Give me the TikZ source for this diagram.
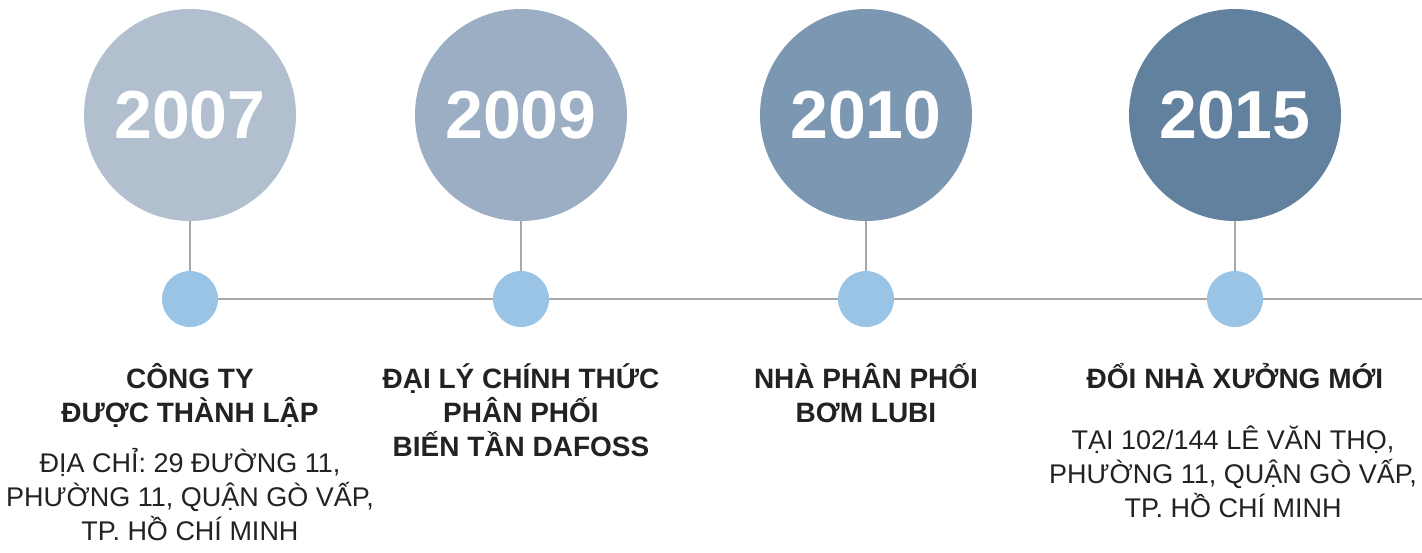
\documentclass[tikz,border=0pt]{standalone}
\usepackage{fontspec}
\setmainfont{Liberation Sans}
\usepackage{tikz}
\usetikzlibrary{positioning}

\definecolor{yearA}{HTML}{B1BFCF}
\definecolor{yearB}{HTML}{9BAEC3}
\definecolor{yearC}{HTML}{7B97B1}
\definecolor{yearD}{HTML}{62819F}
\definecolor{dotblue}{HTML}{9AC4E6}
\definecolor{linegray}{HTML}{A8A8A8}
\definecolor{ink}{HTML}{222222}

\begin{document}
\begin{tikzpicture}[x=1pt,y=-1pt]
\tikzstyle{year}=[circle,minimum size=212pt,inner sep=0pt,text=white,font=\fontsize{68}{68}\selectfont\bfseries]
\tikzstyle{dot}=[circle,fill=dotblue,minimum size=56pt,inner sep=0pt]
\tikzstyle{stem}=[draw=linegray,line width=2.5pt]
\tikzstyle{head}=[align=center,inner sep=0pt,text=ink,font=\fontsize{28}{34}\selectfont\bfseries]
\tikzstyle{addr}=[align=center,inner sep=0pt,text=ink,font=\fontsize{27}{34}\selectfont]
\useasboundingbox (0,0) rectangle (1422,552);
% years
\node[year,fill=yearA] (y1) at (190,115) {2007};
\node[year,fill=yearB] (y2) at (521,115) {2009};
\node[year,fill=yearC] (y3) at (866,115) {2010};
\node[year,fill=yearD] (y4) at (1235,115) {2015};
% dots on the line
\node[dot] (d1) at (190,299) {};
\node[dot] (d2) at (521,299) {};
\node[dot] (d3) at (866,299) {};
\node[dot] (d4) at (1235,299) {};
\coordinate (lineend) at (1422,299);
\draw[stem] (y1) -- (d1);
\draw[stem] (y2) -- (d2);
\draw[stem] (y3) -- (d3);
\draw[stem] (y4) -- (d4);
\draw[stem] (d1) -- (d2);
\draw[stem] (d2) -- (d3);
\draw[stem] (d3) -- (d4);
\draw[stem] (d4) -- (lineend);
% texts (anchor base = last line)
\node[head,anchor=base] (h1) at (190,422) {CÔNG TY\\ĐƯỢC THÀNH LẬP};
\node[addr,anchor=base] (a1) at (190,540) {ĐỊA CHỈ: 29 ĐƯỜNG 11,\\PHƯỜNG 11, QUẬN GÒ VẤP,\\TP. HỒ CHÍ MINH};
\node[head,anchor=base] (h2) at (521,456) {ĐẠI LÝ CHÍNH THỨC\\PHÂN PHỐI\\BIẾN TẦN DAFOSS};
\node[head,anchor=base] (h3) at (866,422) {NHÀ PHÂN PHỐI\\BƠM LUBI};
\node[head,anchor=base] (h4) at (1235,388) {ĐỔI NHÀ XƯỞNG MỚI};
\node[addr,anchor=base] (a4) at (1233,517) {TẠI 102/144 LÊ VĂN THỌ,\\PHƯỜNG 11, QUẬN GÒ VẤP,\\TP. HỒ CHÍ MINH};
\end{tikzpicture}
\end{document}
